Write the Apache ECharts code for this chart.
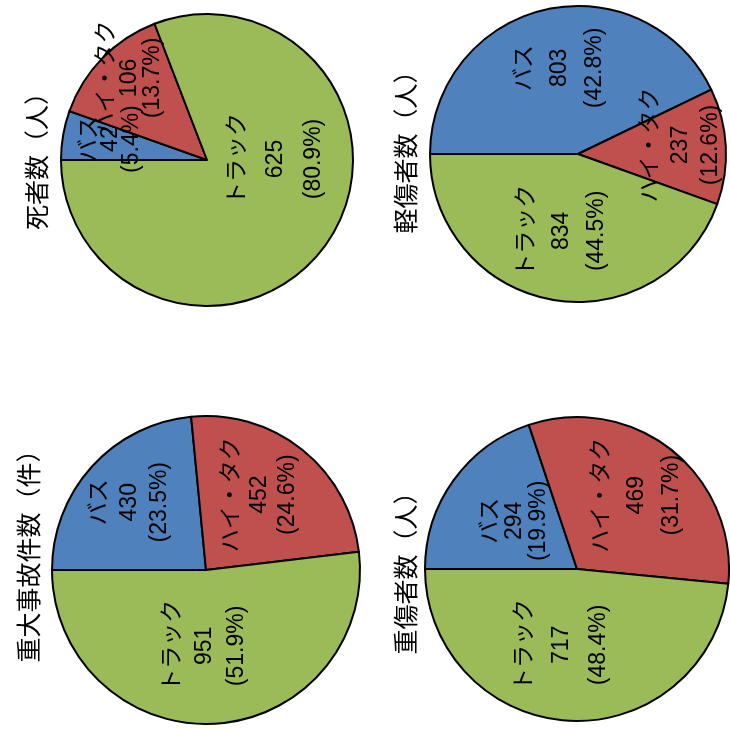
<!DOCTYPE html>
<html>
<head>
<meta charset="utf-8">
<script src="https://cdn.jsdelivr.net/npm/echarts@6/dist/echarts.min.js"></script>
<style>
  html, body { margin: 0; padding: 0; background: #fff; }
  #chart { width: 730px; height: 729px; }
</style>
</head>
<body>
<div id="chart"></div>
<script>
// Vehicle types shown in every pie
const categories = ['バス', 'ハイ・タク', 'トラック'];

// Chart titles
const titles = ['死者数（人）', '軽傷者数（人）', '重大事故件数（件）', '重傷者数（人）'];

// Counts per vehicle type
const deaths = [42, 106, 625];
const minorInjuries = [803, 237, 834];
const seriousAccidents = [430, 452, 951];
const seriousInjuries = [294, 469, 717];

// Printed shares (%)
const deathsPct = ['5.4', '13.7', '80.9'];
const minorInjuriesPct = ['42.8', '12.6', '44.5'];
const seriousAccidentsPct = ['23.5', '24.6', '51.9'];
const seriousInjuriesPct = ['19.9', '31.7', '48.4'];

const colors = ['#4F81BD', '#C0504D', '#9BBB59'];
const labelFont = "'Liberation Sans', Arial, 'Noto Sans CJK JP', sans-serif";
const titleFont = "'Noto Sans CJK JP', sans-serif";

// Layout of the four pies (page is drawn turned a quarter turn).
// nudge: on-screen shift [right, down] of each slice label from its default spot;
// gap: line spacing of each slice label.
const panels = [
  { values: deaths, pct: deathsPct, center: [207, 160], radius: 146, titlePos: [36, 155],
    nudge: [[-21, -8], [-23, -29], [6, -44]], gap: [21, 23, 38] },
  { values: minorInjuries, pct: minorInjuriesPct, center: [578, 154], radius: 148, titlePos: [405, 146],
    nudge: [[-1, -11], [26, -5], [-3, 1]], gap: [35, 30, 35] },
  { values: seriousAccidents, pct: seriousAccidentsPct, center: [206, 570], radius: 154, titlePos: [28, 550],
    nudge: [[-17, -14], [3, -13], [-6, -4]], gap: [30, 28, 32] },
  { values: seriousInjuries, pct: seriousInjuriesPct, center: [577, 569], radius: 152, titlePos: [405, 567],
    nudge: [[2, -2], [10, -12], [-11, -3]], gap: [24, 35, 37] }
];

const chart = echarts.init(document.getElementById('chart'), null, { renderer: 'canvas' });

const series = panels.map(function (p) {
  return {
    type: 'pie',
    center: p.center,
    radius: p.radius,
    startAngle: 180,
    clockwise: true,
    avoidLabelOverlap: false,
    silent: true,
    data: categories.map(function (name, i) {
      return {
        name: name,
        value: p.values[i],
        itemStyle: { color: colors[i] },
        label: { lineHeight: p.gap[i] }
      };
    }),
    itemStyle: { borderColor: '#000', borderWidth: 2 },
    label: {
      show: true,
      position: 'inside',
      rotate: 90,
      color: '#000',
      fontSize: 23,
      fontFamily: labelFont,
      formatter: function (param) {
        return param.name + '\n' + param.value + '\n(' + p.pct[param.dataIndex] + '%)';
      }
    },
    // labels are turned 90° counter-clockwise, so the shift is given in their own frame
    labelLayout: function (params) {
      const n = p.nudge[params.dataIndex];
      return { dx: -n[1], dy: n[0], hideOverlap: false };
    },
    labelLine: { show: false },
    emphasis: { disabled: true }
  };
});

const graphics = panels.map(function (p, i) {
  return {
    type: 'text',
    x: p.titlePos[0],
    y: p.titlePos[1],
    rotation: Math.PI / 2,
    style: {
      text: titles[i],
      fill: '#000',
      font: '25px ' + titleFont,
      textAlign: 'center',
      textVerticalAlign: 'middle'
    }
  };
});

chart.setOption({
  animation: false,
  backgroundColor: '#fff',
  series: series,
  graphic: graphics
});
</script>
</body>
</html>
